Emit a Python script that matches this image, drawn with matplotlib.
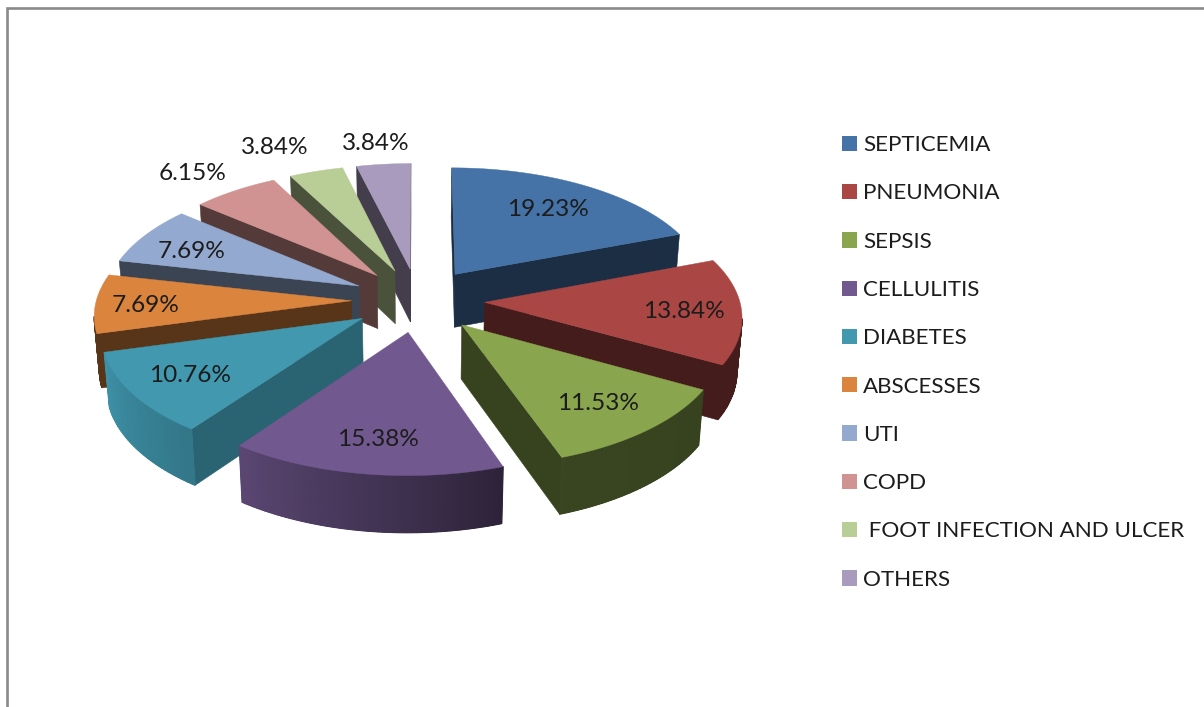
import numpy as np
import matplotlib
matplotlib.use("Agg")
import matplotlib.pyplot as plt
from matplotlib.patches import Polygon, Patch

# ---- data ----
categories = ["SEPTICEMIA", "PNEUMONIA", "SEPSIS", "CELLULITIS", "DIABETES",
              "ABSCESSES", "UTI", "COPD", " FOOT INFECTION AND ULCER", "OTHERS"]
shares = [19.23, 13.84, 11.53, 15.38, 10.76, 7.69, 7.69, 6.15, 3.84, 3.84]
labels = ["19.23%", "13.84%", "11.53%", "15.38%", "10.76%",
          "7.69%", "7.69%", "6.15%", "3.84%", "3.84%"]
colors = ["#4572A7", "#AA4643", "#89A54E", "#71588F", "#4198AF",
          "#DB843D", "#93A9CF", "#D19392", "#B9CD96", "#A99BBD"]

# ---- style / layout ----
start_face_shade = [.40, .40, .40, .40, .65, .40, .40, .40, .40, .40]
end_face_shade = [.40] * 10
arc_shade_start = [.40, .40, .40, .40, .78, .40, .40, .40, .40, .40]
arc_shade_end = [.40, .40, .42, .80, .95, .42, .40, .40, .40, .40]
label_xy = [(548, 209), (684, 311), (598, 403), (378, 439), (190, 376),
            (146, 305), (192, 251), (193, 174), (275, 148), (376, 143)]
FONT = "Lato"
TEXT = "#1c1c1c"
CX, CY, RX, RY, P, EXPLODE, DEPTH, P_Z, SHRINK = 418, 300, 255, 122, .10, .261, 53.5, .05, .984


def project(x, yf, bottom=False):
    s = 1 / (1 - P * yf)
    sx, sy = CX + RX * x * s, CY + RY * yf * s
    if bottom:
        sx = CX + (sx - CX) * SHRINK
        sy = sy + DEPTH / (1 - P_Z * yf)
    return np.array([sx, sy])


def shade(color, f):
    return tuple(c * f for c in matplotlib.colors.to_rgb(color))


fig = plt.figure(figsize=(12.04, 7.07), dpi=100, facecolor="white")
ax = fig.add_axes([0, 0, 1, 1])
ax.set_xlim(0, 1204)
ax.set_ylim(707, 0)
ax.axis("off")

# chart frame
ax.plot([7.3, 7.3, 1204], [707, 8, 8], color="#8a8a8a", lw=1.9,
        solid_joinstyle="miter", zorder=1)

total = sum(shares)
edges = np.concatenate([[0], np.cumsum(shares)]) / total * 2 * np.pi
mids = (edges[:-1] + edges[1:]) / 2
order = np.argsort([-np.cos(m) for m in mids])


def quad(a, b, color, z, lw=.4):
    ax.add_patch(Polygon([a[0], a[1], b[1], b[0]], closed=True, fc=color, ec=color, lw=lw, zorder=z))


z = 2
for i in order:
    ox, oy = EXPLODE * np.sin(mids[i]), -EXPLODE * np.cos(mids[i])
    th = np.linspace(edges[i], edges[i + 1], max(int((edges[i + 1] - edges[i]) * 60), 4))
    xs, ys = ox + np.sin(th), oy - np.cos(th)
    top = np.array([project(x, y) for x, y in zip(xs, ys)])
    bot = np.array([project(x, y, True) for x, y in zip(xs, ys)])
    apex_t, apex_b = project(ox, oy), project(ox, oy, True)
    # radial faces: visible when the outline runs leftwards on screen
    if top[0][0] - apex_t[0] < 0:
        quad((apex_t, top[0]), (apex_b, bot[0]), shade(colors[i], start_face_shade[i]), z)
    if apex_t[0] - top[-1][0] < 0:
        quad((top[-1], apex_t), (bot[-1], apex_b), shade(colors[i], end_face_shade[i]), z)
    # outer wall: an opaque backing first, then gradient strips with no seams
    n = len(th) - 1
    vis = [k for k in range(n) if top[k + 1][0] - top[k][0] < 0]
    if vis:
        idx = list(range(vis[0], vis[-1] + 2))
        mean = (arc_shade_start[i] + arc_shade_end[i]) / 2
        ax.add_patch(Polygon(np.vstack([top[idx], bot[idx][::-1]]), closed=True,
                             fc=shade(colors[i], mean), ec=shade(colors[i], mean), lw=.4, zorder=z + .1))
        for k in vis:
            f = arc_shade_start[i] + (arc_shade_end[i] - arc_shade_start[i]) * k / max(n - 1, 1)
            quad((top[k], top[k + 1]), (bot[k], bot[k + 1]), shade(colors[i], f), z + .2, lw=.9)
    ax.add_patch(Polygon(np.vstack([apex_t, top]), closed=True, fc=colors[i], ec=colors[i], lw=.3, zorder=z + .5))
    z += 1

for lab, (x, y) in zip(labels, label_xy):
    ax.text(x, y, lab, ha="center", va="center", fontsize=17.6, family=FONT, color=TEXT, zorder=50)

handles = [Patch(fc=c, ec="none", label=n) for c, n in zip(colors, categories)]
fs = 16.1
leg = ax.legend(handles=handles, loc="upper left", bbox_to_anchor=(831 / 1204, 1 - 124 / 707),
                frameon=False, prop={"family": FONT, "size": fs},
                labelspacing=1.265, handlelength=.67, handleheight=.67,
                handletextpad=.28, borderpad=.5, borderaxespad=0)
for t in leg.get_texts():
    t.set_color(TEXT)

fig.savefig("out.png", dpi=100, facecolor="white")
